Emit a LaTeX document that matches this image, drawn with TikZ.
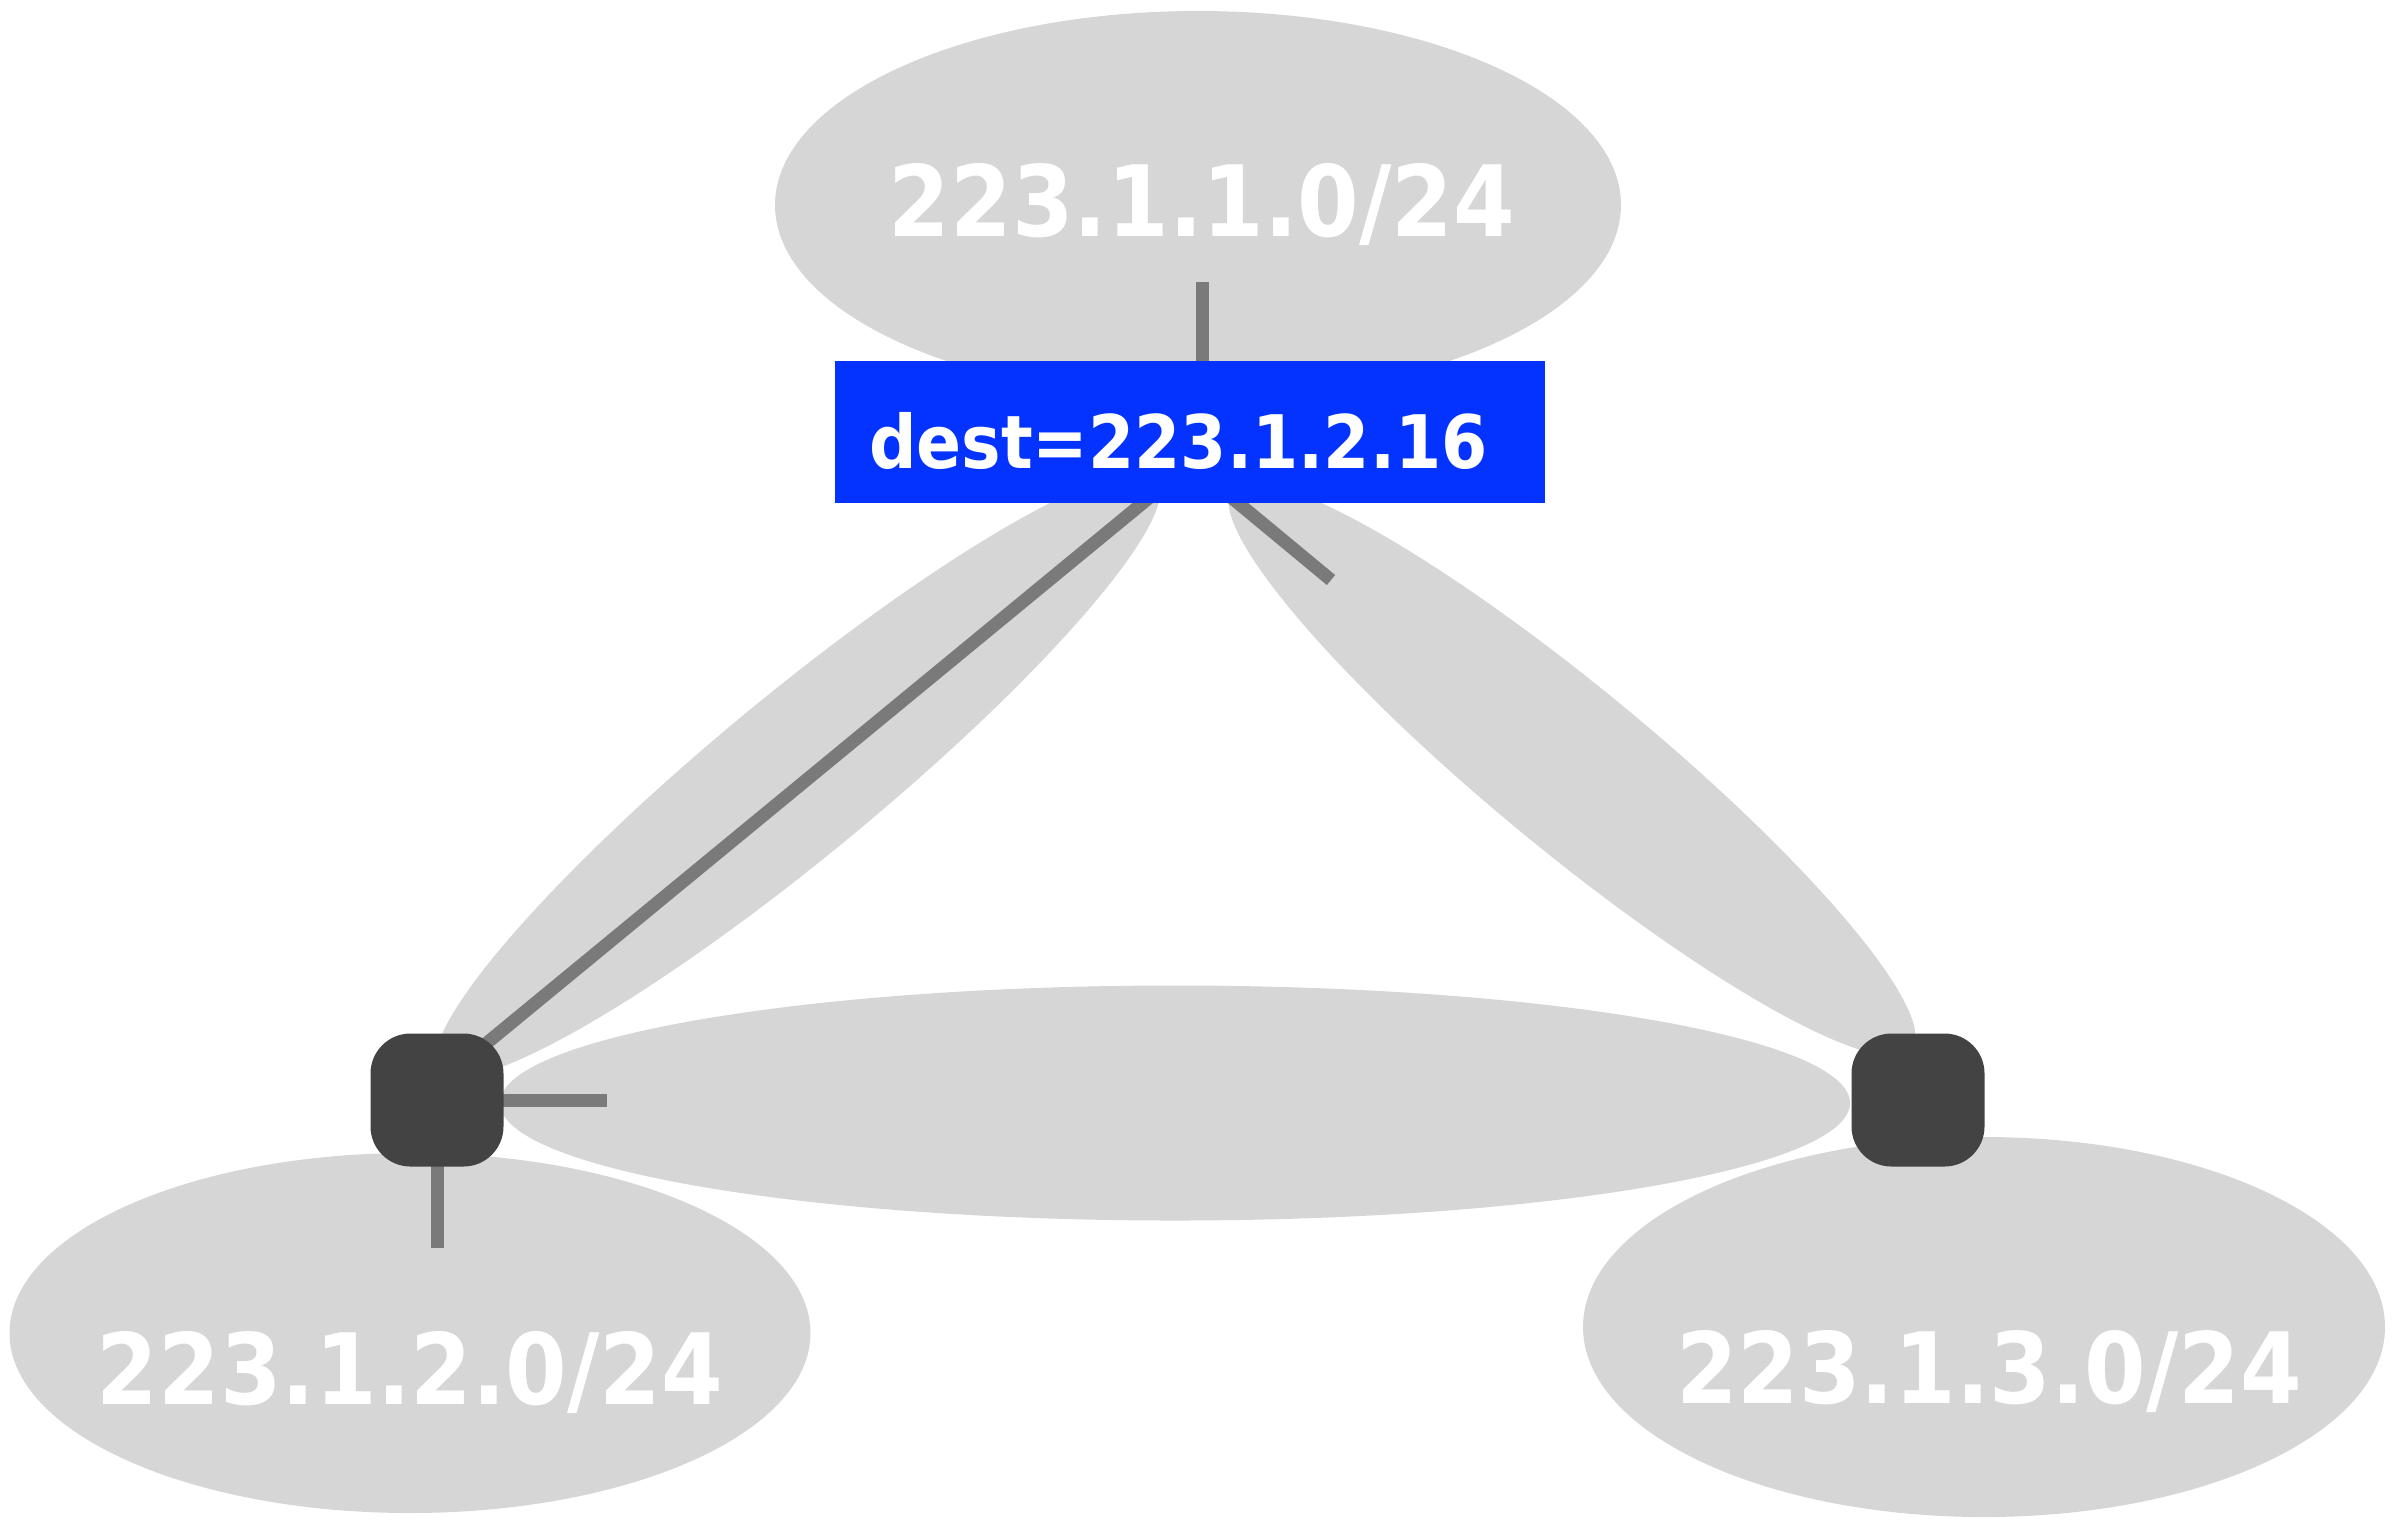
\documentclass[tikz,border=0pt]{standalone}
\usepackage{fontspec}
\newfontfamily\netfont{DejaVu Sans Condensed Bold}
\usetikzlibrary{shapes.geometric}

\definecolor{linkgray}{HTML}{D6D6D6}
\definecolor{routergray}{HTML}{434343}
\definecolor{wiregray}{HTML}{7A7A7A}
\definecolor{destblue}{HTML}{0433FF}

\begin{document}
\begin{tikzpicture}[x=0.1mm,y=-0.1mm,
    subnet/.style={ellipse,fill=linkgray,inner sep=0pt,outer sep=0pt},
    netlabel/.style={anchor=base,text=white,inner sep=0pt,font=\netfont\fontsize{28}{30}\selectfont},
    router/.style={rectangle,rounded corners=4mm,fill=routergray,minimum size=13.3mm,inner sep=0pt},
    wire/.style={draw=wiregray,line width=1.3mm},
    destbox/.style={anchor=base west,fill=destblue,text=white,outer sep=0pt,
      text width=64.2mm,align=left,inner xsep=3.4mm,inner ysep=0pt,
      text height=10.7mm,text depth=3.5mm,font=\netfont\fontsize{21}{24}\selectfont}]
  \useasboundingbox (0,0) rectangle (2397,1519);

  % subnets
  \node[subnet,minimum width=84.6mm,minimum height=38.8mm] (net1) at (1198,205) {};
  \node[subnet,minimum width=80.1mm,minimum height=36mm] (net2) at (410,1333) {};
  \node[subnet,minimum width=80.2mm,minimum height=38mm] (net3) at (1984,1327) {};

  % links
  \fill[linkgray] (1175,1103) ellipse [x radius=67.5mm,y radius=11.75mm];
  \fill[linkgray,rotate around={39.5:(798,775)}] (798,775) ellipse [x radius=46.5mm,y radius=8.1mm];
  \fill[linkgray,rotate around={-39.5:(1572,769)}] (1572,769) ellipse [x radius=44mm,y radius=8.1mm];

  \node[netlabel] (lab1) at (1202,236) {223.1.1.0/24};
  \node[netlabel] (lab2) at (410,1404) {223.1.2.0/24};
  \node[netlabel] (lab3) at (1989,1403) {223.1.3.0/24};

  \coordinate (cL) at (437,1100);
  \coordinate (cR) at (1918,1100);
  \coordinate (up) at (1202,282);
  \coordinate (top) at (1150,497);
  \coordinate (tip) at (1331,580);
  \coordinate (tipin) at (1226,493);
  \coordinate (mid) at (607,1100);
  \coordinate (down) at (437,1248);

  \draw[wire] (up) -- (up |- top);
  \draw[wire] ([yshift=1.6mm]cL) -- (top);
  \draw[wire] (tip) -- (tipin);
  \draw[wire] (cL) -- (mid);
  \draw[wire] (cL) -- (down);

  % routers
  \node[router] (rL) at (cL) {};
  \node[router] (rR) at (cR) {};

  \node[destbox] (dest) at (835,468) {dest=223.1.2.16};
\end{tikzpicture}
\end{document}
